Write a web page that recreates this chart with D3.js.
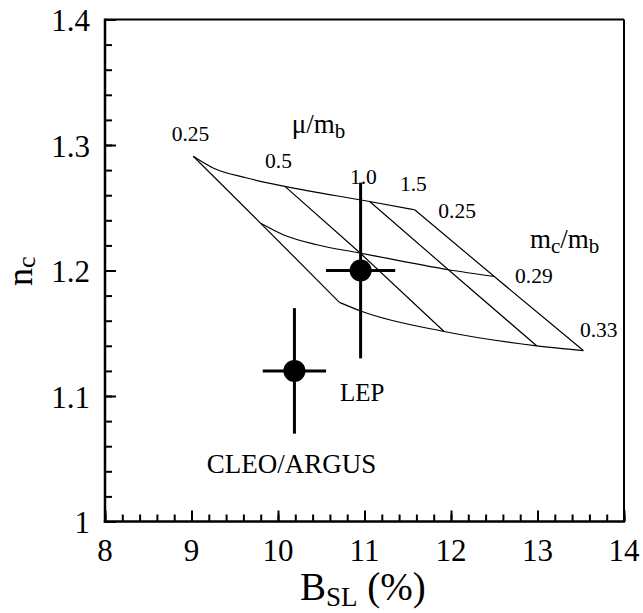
<!DOCTYPE html>
<html lang="en">
<head>
  <meta charset="UTF-8" />
  <title>n_c vs B_SL</title>
  <script src="https://d3js.org/d3.v7.min.js"></script>
  <style>
    body{margin:0;background:#fff}
  </style>
</head>
<body>
  <div id="chart"></div>
  <script>
    // grid rows (constant m_c/m_b)
    const mcLabels = ["0.25", "0.29", "0.33"];
    const rowB = [
      [9.02, 9.25, 9.64, 10.08, 11.06, 11.58],
      [9.80, 10.06, 10.45, 10.95, 11.97, 12.50],
      [10.71, 10.98, 11.92, 12.99, 13.53]
    ];
    const rowN = [
      [1.291, 1.2817, 1.2737, 1.267, 1.255, 1.2484],
      [1.2376, 1.2285, 1.2205, 1.2139, 1.2006, 1.1952],
      [1.1746, 1.1671, 1.1514, 1.140, 1.1362]
    ];
    // index of each mu/m_b node within each row
    const muLabels = ["0.25", "0.5", "1.0", "1.5"];
    const nodeIdx = [[0, 3, 4, 5], [0, 3, 4, 5], [0, 2, 3, 4]];

    // measurements
    const expNames = ["LEP", "CLEO/ARGUS"];
    const expB = [10.955, 10.19];
    const expBerr = [0.4, 0.366];
    const expN = [1.20, 1.12];
    const expNerr = [0.07, 0.05];

    const xTicks = [8, 9, 10, 11, 12, 13, 14];
    const yTicks = [1, 1.1, 1.2, 1.3, 1.4];

    const FONT = "'Liberation Serif', 'DejaVu Serif', serif";
    const W = 643, H = 613;
    const svg = d3.select("#chart").append("svg").attr("width", W).attr("height", H)
      .attr("font-family", FONT);
    const x = d3.scaleLinear().domain([8, 14]).range([105, 624]);
    const y = d3.scaleLinear().domain([1, 1.4]).range([521.5, 19.5]);

    // frame
    svg.append("line").attr("x1", x(8)).attr("x2", x(14)).attr("y1", y(1.4)).attr("y2", y(1.4)).attr("stroke", "#000").attr("stroke-width", 2);
    svg.append("line").attr("x1", x(14)).attr("x2", x(14)).attr("y1", y(1.4)).attr("y2", y(1)).attr("stroke", "#000").attr("stroke-width", 2);

    // minor + major ticks pointing inward
    const minorX = d3.range(8, 14.001, 0.2);
    const minorY = d3.range(1, 1.4001, 0.02);
    svg.append("g").attr("transform", `translate(0,${y(1)})`)
      .call(d3.axisBottom(x).tickValues(minorX).tickSize(-7).tickFormat(""))
      .call(g => g.select(".domain").remove());
    svg.append("g").attr("transform", `translate(0,${y(1)})`)
      .call(d3.axisBottom(x).tickValues(xTicks).tickSize(-11).tickFormat(""))
      .call(g => g.select(".domain").remove());
    svg.append("g").attr("transform", `translate(${x(8)},0)`)
      .call(d3.axisLeft(y).tickValues(minorY).tickSize(-7).tickFormat(""))
      .call(g => g.select(".domain").remove());
    svg.append("g").attr("transform", `translate(${x(8)},0)`)
      .call(d3.axisLeft(y).tickValues(yTicks).tickSize(-11).tickFormat(""))
      .call(g => g.select(".domain").remove());
    svg.selectAll(".tick line").attr("stroke", "#000").attr("stroke-width", 2);

    svg.append("line").attr("x1", x(8)).attr("x2", x(8)).attr("y1", y(1.4) - 1).attr("y2", y(1) + 1.2).attr("stroke", "#000").attr("stroke-width", 2.5);
    svg.append("line").attr("x1", x(8) - 1.2).attr("x2", x(14) + 1).attr("y1", y(1)).attr("y2", y(1)).attr("stroke", "#000").attr("stroke-width", 2.5);

    // tick labels
    svg.selectAll(".xl").data(xTicks).enter().append("text")
      .attr("x", d => x(d)).attr("y", 561).attr("text-anchor", "middle")
      .attr("font-family", FONT).attr("font-size", 31).text(d => d);
    svg.selectAll(".yl").data(yTicks).enter().append("text")
      .attr("x", 90).attr("y", d => y(d) + 11.5).attr("text-anchor", "end")
      .attr("font-family", FONT).attr("font-size", 31).text(d => d === 1 ? "1" : d.toFixed(1));

    // axis titles
    const xt = svg.append("text").attr("x", 300).attr("y", 600).attr("font-family", FONT).attr("font-size", 39);
    xt.append("tspan").text("B");
    xt.append("tspan").attr("dy", 6).attr("font-size", 27).text("SL");
    xt.append("tspan").attr("dy", -6).text(" (%)");
    const yt = svg.append("text").attr("transform", "translate(32,286) rotate(-90)").attr("font-family", FONT).attr("font-size", 36);
    yt.append("tspan").text("n");
    yt.append("tspan").attr("dy", 3).attr("font-size", 26).text("c");

    // grid of predictions
    const line = d3.line().x(d => x(d[0])).y(d => y(d[1])).curve(d3.curveMonotoneX);
    rowB.forEach((r, i) => {
      svg.append("path").datum(r.map((b, k) => [b, rowN[i][k]]))
        .attr("d", line).attr("fill", "none").attr("stroke", "#000").attr("stroke-width", 1.2);
    });
    muLabels.forEach((m, j) => {
      const pts = rowB.map((r, i) => [r[nodeIdx[i][j]], rowN[i][nodeIdx[i][j]]]);
      svg.append("path").datum(pts)
        .attr("d", d3.line().x(d => x(d[0])).y(d => y(d[1])))
        .attr("fill", "none").attr("stroke", "#000").attr("stroke-width", 1.2);
    });

    // grid labels
    const labB = [8.771, 9.850, 10.832, 11.410, 11.853, 12.740, 13.491];
    const labN = [1.3029, 1.2817, 1.2689, 1.2630, 1.2418, 1.19, 1.1474];
    const labT = [muLabels[0], muLabels[1], muLabels[2], muLabels[3], mcLabels[0], mcLabels[1], mcLabels[2]];
    labT.forEach((t, i) => {
      svg.append("text").attr("x", x(labB[i])).attr("y", y(labN[i]))
        .attr("font-family", FONT).attr("font-size", 21.5).text(t);
    });
    const mu = svg.append("text").attr("x", x(10.158)).attr("y", y(1.3096)).attr("font-family", FONT).attr("font-size", 27);
    mu.append("tspan").text("\u03bc/m");
    mu.append("tspan").attr("dy", 5).attr("font-size", 21).text("b");
    const mc = svg.append("text").attr("x", x(12.913)).attr("y", y(1.2179)).attr("font-family", FONT).attr("font-size", 27);
    mc.append("tspan").text("m");
    mc.append("tspan").attr("dy", 5).attr("font-size", 21).text("c");
    mc.append("tspan").attr("dy", -5).text("/m");
    mc.append("tspan").attr("dy", 5).attr("font-size", 21).text("b");

    // measurements
    expNames.forEach((n, i) => {
      svg.append("line").attr("x1", x(expB[i] - expBerr[i])).attr("x2", x(expB[i] + expBerr[i]))
        .attr("y1", y(expN[i])).attr("y2", y(expN[i])).attr("stroke", "#000").attr("stroke-width", 3);
      svg.append("line").attr("x1", x(expB[i])).attr("x2", x(expB[i]))
        .attr("y1", y(expN[i] - expNerr[i])).attr("y2", y(expN[i] + expNerr[i])).attr("stroke", "#000").attr("stroke-width", 3);
      svg.append("circle").attr("cx", x(expB[i])).attr("cy", y(expN[i])).attr("r", 11).attr("fill", "#000");
    });
    const expLabB = [10.717, 9.176];
    const expLabN = [1.0963, 1.0384];
    const expLabSize = [25, 27];
    expNames.forEach((n, i) => {
      svg.append("text").attr("x", x(expLabB[i])).attr("y", y(expLabN[i]))
        .attr("font-family", FONT).attr("font-size", expLabSize[i]).text(n);
    });
  </script>
</body>
</html>
